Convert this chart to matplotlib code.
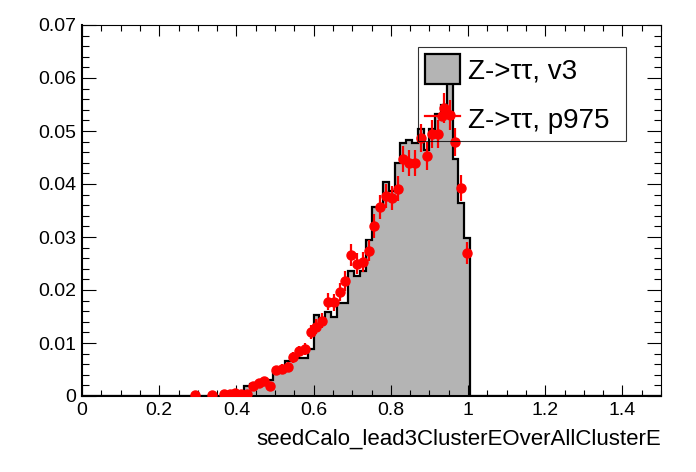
import numpy as np
import matplotlib
matplotlib.use("Agg")
import matplotlib.pyplot as plt
from matplotlib.patches import Patch
from matplotlib.lines import Line2D
from matplotlib.ticker import MultipleLocator, FixedFormatter, FixedLocator

plt.rcParams['font.family'] = ['Liberation Sans', 'DejaVu Sans']

# 100 bins on [0, 1.5]
n_bins = 100
x_lo, x_hi = 0.0, 1.5

# Z->tautau, v3 (grey histogram), values from bin index 24 onwards
v3_first_bin = 24
v3_values = [0.0002, 0.0002, 0.0004, 0.0004, 0.0019, 0.0022, 0.0027, 0.0027,
             0.0030, 0.0046, 0.0046, 0.0066, 0.0071, 0.0071, 0.0072, 0.0088,
             0.0153, 0.0145, 0.0158, 0.0150, 0.0175, 0.0175, 0.0235, 0.0226,
             0.0235, 0.0294, 0.0357, 0.0357, 0.0404, 0.0386, 0.0439, 0.0477,
             0.0483, 0.0477, 0.0503, 0.0464, 0.0503, 0.0533, 0.0549, 0.0620,
             0.0448, 0.0364, 0.0298]

# Z->tautau, p975 (red points): bin index, value, error
p975_bins = [19, 22, 24, 25, 26, 27, 28, 29, 30, 31, 32, 33, 34, 35, 36, 37,
             38, 39, 40, 41, 42, 43, 44, 45, 46, 47, 48, 49, 50, 51, 52, 53,
             54, 55, 56, 57, 58, 59, 60, 61, 62, 63, 64, 65, 66]
p975_values = [0.0002, 0.0002, 0.0003, 0.0003, 0.0006, 0.0003, 0.0003, 0.0018,
               0.0024, 0.0028, 0.0019, 0.0049, 0.0051, 0.0055, 0.0073, 0.0084,
               0.0089, 0.0121, 0.0131, 0.0142, 0.0178, 0.0177, 0.0197, 0.0217,
               0.0266, 0.0250, 0.0253, 0.0274, 0.0321, 0.0357, 0.0377, 0.0374,
               0.0391, 0.0447, 0.0440, 0.0440, 0.0487, 0.0453, 0.0494, 0.0494,
               0.0543, 0.0530, 0.0479, 0.0392, 0.0270]
p975_errors = [0.0002, 0.0002, 0.0002, 0.0002, 0.0003, 0.0002, 0.0002, 0.0005,
               0.0006, 0.0006, 0.0005, 0.0008, 0.0009, 0.0009, 0.0010, 0.0011,
               0.0011, 0.0013, 0.0014, 0.0014, 0.0016, 0.0016, 0.0017, 0.0018,
               0.0020, 0.0019, 0.0019, 0.0020, 0.0022, 0.0023, 0.0023, 0.0023,
               0.0024, 0.0025, 0.0025, 0.0025, 0.0026, 0.0026, 0.0027, 0.0027,
               0.0028, 0.0028, 0.0026, 0.0025, 0.0021]

x_ticks = [0, 0.2, 0.4, 0.6, 0.8, 1.0, 1.2, 1.4]
x_tick_labels = ['0', '0.2', '0.4', '0.6', '0.8', '1', '1.2', '1.4']
y_ticks = [0, 0.01, 0.02, 0.03, 0.04, 0.05, 0.06, 0.07]
y_tick_labels = ['0', '0.01', '0.02', '0.03', '0.04', '0.05', '0.06', '0.07']

edges = np.linspace(x_lo, x_hi, n_bins + 1)
centers = 0.5 * (edges[:-1] + edges[1:])
hist = np.zeros(n_bins)
hist[v3_first_bin:v3_first_bin + len(v3_values)] = v3_values

fig = plt.figure(figsize=(6.96, 4.72), dpi=100)
ax = fig.add_axes([82 / 696, 1 - 396 / 472, 579 / 696, 371 / 472])

ax.stairs(hist, edges, fill=True, color='#b4b4b4', zorder=1)
ax.stairs(hist, edges, baseline=0, color='black', linewidth=1.6, zorder=2)

ax.errorbar(centers[p975_bins], p975_values, yerr=p975_errors, fmt='o',
            color='red', ms=6.5, elinewidth=1.6, capsize=0, zorder=3)

ax.set_xlim(x_lo, x_hi)
ax.set_ylim(0, 0.07)

ax.xaxis.set_major_locator(FixedLocator(x_ticks))
ax.xaxis.set_major_formatter(FixedFormatter(x_tick_labels))
ax.xaxis.set_minor_locator(MultipleLocator(0.05))
ax.yaxis.set_major_locator(FixedLocator(y_ticks))
ax.yaxis.set_major_formatter(FixedFormatter(y_tick_labels))
ax.yaxis.set_minor_locator(MultipleLocator(0.002))

ax.tick_params(axis='both', which='both', direction='in', top=True, right=True,
               labelsize=14, width=0.8, colors='black')
ax.tick_params(axis='x', which='major', length=8, pad=4)
ax.tick_params(axis='x', which='minor', length=4)
ax.tick_params(axis='y', which='major', length=10, pad=4)
ax.tick_params(axis='y', which='minor', length=5)

for side in ['left', 'bottom']:
    ax.spines[side].set_linewidth(1.5)
for side in ['top', 'right']:
    ax.spines[side].set_linewidth(0.8)

ax.set_xlabel('seedCalo_lead3ClusterEOverAllClusterE', loc='right', fontsize=16, labelpad=7)

handles = [Patch(facecolor='#b4b4b4', edgecolor='black', linewidth=1.6),
           Line2D([], [], color='red', marker='o', ms=6.5, linewidth=1.6)]
labels = ['Z->ττ, v3', 'Z->ττ, p975']
leg = ax.legend(handles, labels, loc='upper left',
                bbox_to_anchor=(0.58, 0.687, 0.36, 0.254), mode='expand',
                fontsize=20, frameon=True, fancybox=False,
                edgecolor='black', borderpad=0.25, handlelength=1.27,
                handleheight=1.3, labelspacing=0.7, handletextpad=0.3,
                borderaxespad=0)
leg.get_frame().set_facecolor('none')
leg.get_frame().set_linewidth(0.8)

fig.savefig('out.png', dpi=100)
